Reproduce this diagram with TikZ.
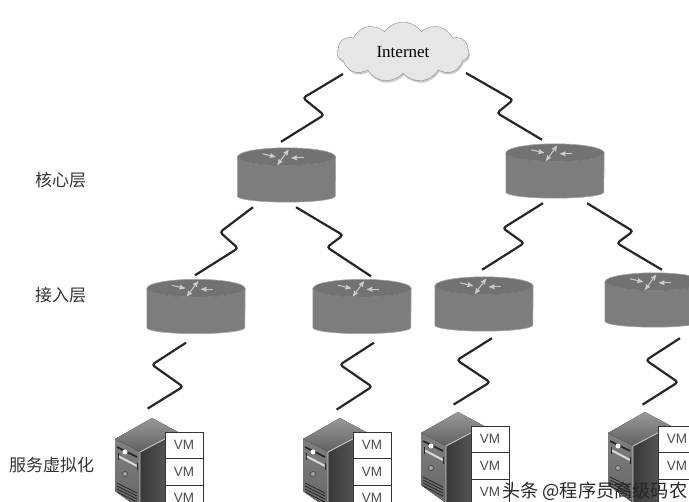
\documentclass[tikz,border=0pt]{standalone}
\usepackage{fontspec}
\usepackage{xcolor}
\usetikzlibrary{arrows,calc,shapes.symbols,shadows}
\newfontfamily\cjkfont{Noto Sans CJK SC}
\newfontfamily\vmfont{Liberation Sans}
\newfontfamily\netfont{Liberation Serif}
\definecolor{bodygray}{HTML}{7D7D7D}
\definecolor{facegray}{HTML}{727272}
\definecolor{cloudgray}{HTML}{E6E6E6}
\definecolor{inkgray}{HTML}{333333}

\begin{document}
\begin{tikzpicture}[x=1pt,y=-1pt,>=stealth',
	router/.style={minimum width=98pt,minimum height=54pt,inner sep=0pt},
	link/.style={draw=black!85,line width=2.2pt,rounded corners=3pt},
	icon/.style={<->,draw=black!20,line width=1pt},
	layer/.style={font=\cjkfont\fontsize{17}{17}\selectfont,text=inkgray,inner sep=0pt},
	vmbox/.style={draw=black!80,fill=white,line width=0.8pt,minimum width=38pt,minimum height=26.5pt,inner sep=0pt,text=black!70,font=\vmfont\fontsize{13.5}{13.5}\selectfont},
	pics/server/.default=VM,
	pics/server/.style={code={
		\fill[top color=black!40,bottom color=black!62] (0,0) -- (37,-21) -- (63,-7) -- (25,13) -- cycle;
		\fill[left color=black!78,right color=black!62] (25,13) -- (63,-7) -- (63,70) -- (25,70) -- cycle;
		\fill[top color=black!50,bottom color=black!60] (0,0) -- (25,13) -- (25,70) -- (0,52) -- cycle;
		\draw[black!20,line width=0.9pt] (63,-7) -- (25,13) -- (25,70);
		\draw[black!85,line width=1.6pt] (2,8) -- (22,18);
		\draw[black!15,line width=2pt] (3,17) -- (22,27);
		\draw[black!85,line width=0.8pt] (3,14) -- (3,21) (22,24) -- (22,31);
		\fill[white] (10,13) circle (2.5);
		\draw[black!70,fill=black!35,line width=0.8pt] (10,35) circle (2.5);
		\foreach \v in {44,47,50,53}
			\draw[black!85,line width=0.8pt] (2,\v) -- (22,\v+10);
		\node[vmbox] (-vm1) at (69,6.25) {VM};
		\node[vmbox] (-vm2) at (69,32.75) {VM};
		\node[vmbox] (-vm3) at (69,59.25) {#1};
	}}]
	\useasboundingbox (0,0) rectangle (689,502);

	% labels on the left
	\node[layer,anchor=west] (core) at (35,180) {核心层};
	\node[layer,anchor=west] (access) at (35,295) {接入层};
	\node[layer,anchor=west] (virt) at (9,465) {服务虚拟化};

	\node[cloud,cloud puffs=11,cloud puff arc=110,aspect=2.2,draw=black!45,fill=cloudgray,minimum width=132pt,minimum height=60pt,inner sep=0pt,drop shadow={shadow xshift=1pt,shadow yshift=-2pt,fill=black!40},font=\netfont\fontsize{17}{17}\selectfont] (net) at (403,52) {Internet};

	\node[router] (r1) at (286.5,175) {};
	\node[router] (r2) at (555,171) {};
	\node[router] (r3) at (196,306.5) {};
	\node[router] (r4) at (362,306.5) {};
	\node[router] (r5) at (484,304) {};
	\node[router] (r6) at (654,300) {};

	% body and top face of each router
	\foreach \r in {r1,r2,r3,r4,r5,r6} {
		\draw[black!35,line width=0.6pt,fill=bodygray] ($(\r.north west)+(0,9)$) -- ($(\r.south west)+(0,-6)$) arc (180:0:49 and 6) -- ($(\r.north east)+(0,9)$) -- cycle;
		\draw[black!35,line width=0.6pt,fill=facegray] ($(\r.north)+(0,9)$) ellipse (49 and 9);
		\draw[black!55,line width=0.7pt] ($(\r.north)+(-49,9)$) arc (180:0:49 and 9);
		\draw[icon,<-] ($(\r.north)+(-11,9)$) -- ($(\r.north)+(-24,6)$);
		\draw[icon] ($(\r.north)+(-9,17)$) -- ($(\r.north)+(2,2)$);
		\draw[icon,<-] ($(\r.north)+(5,10)$) -- ($(\r.north)+(17,10)$);
	}

	\pic (s1) at (115,439) {server};
	\pic (s2) at (303,439) {server};
	\pic (s3) at (421,433) {server};
	\pic (s4) at (608,433) {server={}};

	\draw[link] ($(net)+(-60,22)$) -- ++(-40,24) -- ++(21,17) -- ($(r1.north)+(-5.5,-6)$);
	\draw[link] ($(net)+(63,21)$) -- ++(47,27) -- ++(-16,13) -- ($(r2.north)+(-13,-4)$);
	\draw[link] ($(r1.south)+(-33.5,5)$) -- ++(-33,25) -- ++(18,16) -- ($(r3.north)+(-1,-4)$);
	\draw[link] ($(r1.south)+(9.5,5)$) -- ++(47,28) -- ++(-16,12) -- ($(r4.north)+(9,-3)$);
	\draw[link] ($(r2.south)+(-12,5)$) -- ++(-40,25) -- ++(21,15) -- ($(r5.north)+(-2,-7)$);
	\draw[link] ($(r2.south)+(32,5)$) -- ++(46,28) -- ++(-16,12) -- ($(r6.north)+(8,-3)$);
	\draw[link] ($(r3.south)+(-10,9)$) -- ++(-34,22) -- ++(31,22) -- ($(s1-vm1.north west)+(-17,-23)$);
	\draw[link] ($(r4.south)+(12,9)$) -- ++(-34,22) -- ++(32,22) -- ($(s2-vm1.north west)+(-16,-22)$);
	\draw[link] ($(r5.south)+(8,7)$) -- ++(-35,22) -- ++(33,22) -- ($(s3-vm1.north west)+(-17,-21)$);
	\draw[link] ($(r6.south)+(26,11)$) -- ++(-34,22) -- ++(32,22) -- ($(s4-vm1.north west)+(-15,-21)$);

	\node[layer,anchor=west,text=black!85,font=\cjkfont\fontsize{18.2}{18.2}\selectfont] (wmark) at (502,491) {头条 @程序员高级码农};
\end{tikzpicture}
\end{document}
